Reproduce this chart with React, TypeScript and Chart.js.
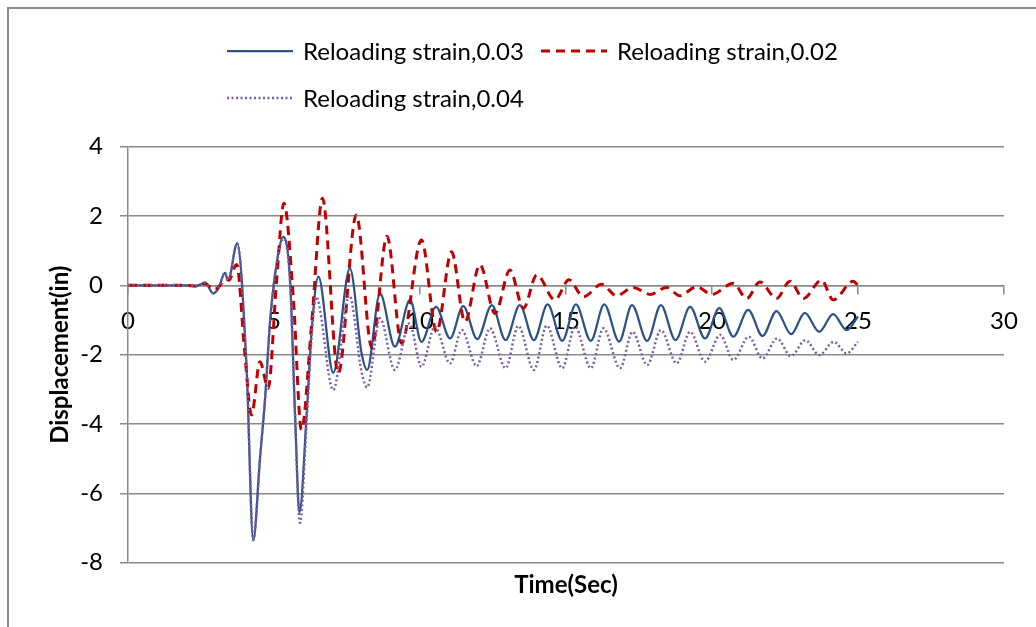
import React, { useEffect, useRef } from "react";
import { Chart, registerables } from "chart.js";

Chart.register(...registerables);

// ---------- data ----------
const SERIES_LABELS = [
  "Reloading strain,0.03",
  "Reloading strain,0.02",
  "Reloading strain,0.04",
];

const T03 = [0, 1, 2, 2.3, 2.5, 2.64, 2.92, 3.1, 3.32, 3.43, 3.74, 4.06, 4.29, 4.52, 4.7, 4.86, 5.05, 5.32, 5.55, 5.72, 5.87, 6.12, 6.29, 6.52, 7.03, 7.6, 8.0, 8.19, 8.63, 9.14, 9.66, 10.05, 10.55, 11.03, 11.48, 11.96, 12.46, 12.93, 13.42, 13.9, 14.37, 14.87, 15.34, 15.85, 16.31, 16.82, 17.26, 17.78, 18.25, 18.75, 19.25, 19.76, 20.25, 20.73, 21.24, 21.73, 22.21, 22.71, 23.18, 23.67, 24.15, 24.61, 25.0];
const V03 = [0, 0, 0, -0.02, 0.03, 0.08, -0.23, -0.08, 0.36, 0.15, 1.21, -2.35, -7.35, -5.0, -3.2, -1.1, 0.4, 1.4, 0.15, -3.69, -6.55, -3.69, -1.29, 0.25, -2.52, 0.49, -1.96, -2.44, -0.23, -1.77, -0.42, -1.63, -0.62, -1.53, -0.6, -1.55, -0.57, -1.58, -0.57, -1.58, -0.55, -1.6, -0.55, -1.6, -0.55, -1.62, -0.57, -1.6, -0.57, -1.58, -0.62, -1.53, -0.66, -1.48, -0.71, -1.46, -0.74, -1.41, -0.79, -1.34, -0.83, -1.29, -0.9];

const T02 = [0, 1, 2, 2.3, 2.64, 2.95, 3.1, 3.35, 3.45, 3.72, 4.0, 4.23, 4.52, 4.8, 5.09, 5.34, 5.66, 5.94, 6.29, 6.66, 7.2, 7.82, 8.35, 8.87, 9.37, 10.05, 10.57, 11.08, 11.54, 12.05, 12.57, 13.08, 13.54, 14.0, 14.62, 15.1, 15.59, 16.22, 16.73, 17.3, 17.88, 18.45, 18.9, 19.47, 19.99, 20.73, 21.19, 21.64, 22.21, 22.67, 23.13, 23.75, 24.15, 24.84, 25.0];
const V02 = [0, 0, 0, -0.02, 0.05, -0.12, -0.05, 0.2, 0.15, 0.6, -1.96, -3.74, -2.2, -2.97, 0.15, 2.37, -0.33, -4.17, -1.1, 2.51, -2.54, 2.03, -1.8, 1.42, -1.67, 1.31, -1.34, 0.97, -1.05, 0.6, -0.81, 0.44, -0.66, 0.3, -0.42, 0.16, -0.33, 0.03, -0.3, -0.06, -0.26, -0.06, -0.3, -0.04, -0.26, 0.06, -0.38, 0.1, -0.38, 0.12, -0.38, 0.15, -0.42, 0.12, 0.0];

const T04 = [0, 1, 2, 2.3, 2.5, 2.64, 2.92, 3.1, 3.32, 3.43, 3.74, 4.06, 4.29, 4.52, 4.7, 4.86, 5.05, 5.32, 5.55, 5.72, 5.89, 6.12, 6.29, 6.44, 7.03, 7.58, 8.0, 8.19, 8.63, 9.14, 9.64, 10.05, 10.51, 11.03, 11.43, 11.94, 12.4, 12.93, 13.37, 13.9, 14.34, 14.87, 15.31, 15.85, 16.28, 16.85, 17.28, 17.78, 18.25, 18.79, 19.25, 19.76, 20.28, 20.73, 21.26, 21.73, 22.23, 22.7, 23.2, 23.67, 24.17, 24.61, 25.0];
const V04 = [0, 0, 0, -0.02, 0.03, 0.08, -0.23, -0.08, 0.36, 0.15, 1.21, -2.35, -7.35, -5.0, -3.2, -1.1, 0.4, 1.35, 0.1, -3.8, -6.85, -3.9, -1.45, -0.33, -3.02, -0.28, -2.5, -2.94, -0.95, -2.44, -1.1, -2.35, -1.19, -2.25, -1.29, -2.33, -1.24, -2.39, -1.17, -2.44, -1.16, -2.39, -1.19, -2.39, -1.24, -2.39, -1.34, -2.3, -1.29, -2.25, -1.34, -2.2, -1.43, -2.15, -1.48, -2.11, -1.53, -2.04, -1.58, -2.01, -1.63, -1.96, -1.63];

const X_MIN = 0;
const X_MAX = 30;
const X_STEP = 5;
const Y_MIN = -8;
const Y_MAX = 4;
const Y_STEP = 2;
const X_TITLE = "Time(Sec)";
const Y_TITLE = "Displacement(in)";

// ---------- styling ----------
const FONT = "Lato, 'Open Sans', sans-serif";
const GRID = "#8a8a8a";

const toPoints = (t: number[], v: number[]) => t.map((x, i) => ({ x, y: v[i] }));

const decorPlugin = {
  id: "decor",
  afterDraw(chart: any) {
    const ctx = chart.ctx as CanvasRenderingContext2D;
    const ds = chart.data.datasets;
    const slots = [
      { i: 0, x: 227, y: 51 },
      { i: 1, x: 541, y: 51 },
      { i: 2, x: 227, y: 98 },
    ];
    ctx.save();
    for (const s of slots) {
      const d = ds[s.i];
      ctx.beginPath();
      ctx.setLineDash(d.borderDash || []);
      ctx.lineCap = d.borderCapStyle || "butt";
      ctx.lineWidth = d.borderWidth;
      ctx.strokeStyle = d.borderColor;
      ctx.moveTo(s.x, s.y);
      ctx.lineTo(s.x + 66, s.y);
      ctx.stroke();
      ctx.setLineDash([]);
      ctx.fillStyle = "#000";
      ctx.font = `24px ${FONT}`;
      ctx.textAlign = "left";
      ctx.textBaseline = "middle";
      ctx.fillText(d.label, s.x + 76, s.y + 1);
    }
    const ca = chart.chartArea;
    ctx.font = `bold 24px ${FONT}`;
    ctx.textAlign = "center";
    ctx.textBaseline = "middle";
    ctx.fillStyle = "#000";
    ctx.fillText(X_TITLE, (ca.left + ca.right) / 2, 585);
    ctx.restore();
  },
};

export default function App() {
  const ref = useRef<HTMLCanvasElement>(null);

  useEffect(() => {
    if (!ref.current) return;
    const chart = new Chart(ref.current, {
      type: "line",
      data: {
        datasets: [
          {
            label: SERIES_LABELS[0],
            data: toPoints(T03, V03),
            borderColor: "#2B5387",
            borderWidth: 2.25,
            pointRadius: 0,
            cubicInterpolationMode: "monotone",
            fill: false,
            order: 2,
          },
          {
            label: SERIES_LABELS[1],
            data: toPoints(T02, V02),
            borderColor: "#C00000",
            borderWidth: 3,
            borderDash: [9, 6],
            pointRadius: 0,
            cubicInterpolationMode: "monotone",
            fill: false,
            order: 1,
          },
          {
            label: SERIES_LABELS[2],
            data: toPoints(T04, V04),
            borderColor: "#7B5EA7",
            borderWidth: 2.5,
            borderDash: [2, 2.5],
            pointRadius: 0,
            cubicInterpolationMode: "monotone",
            fill: false,
            order: 0,
          },
        ],
      },
      options: {
        animation: false,
        responsive: false,
        maintainAspectRatio: false,
        devicePixelRatio: 1,
        layout: { padding: { left: 0, right: 32, top: 146.7, bottom: 64.3 } },
        plugins: {
          legend: { display: false },
          tooltip: { enabled: false },
          title: { display: false },
        },
        scales: {
          x: {
            type: "linear",
            position: { y: 0 } as any,
            min: X_MIN,
            max: X_MAX,
            afterFit: (s: any) => {
              s.height = 0;
            },
            ticks: {
              stepSize: X_STEP,
              color: "#000",
              font: { family: FONT, size: 24 },
              padding: 13,
              maxRotation: 0,
            },
            grid: {
              drawOnChartArea: false,
              drawTicks: true,
              tickLength: 8,
              color: GRID,
              lineWidth: 1.5,
            },
            border: { display: true, color: GRID, width: 1.5 },
          },
          y: {
            type: "linear",
            position: "left",
            min: Y_MIN,
            max: Y_MAX,
            afterFit: (s: any) => {
              s.width = 128;
            },
            ticks: {
              stepSize: Y_STEP,
              color: "#000",
              font: { family: FONT, size: 24 },
              padding: 17,
            },
            grid: {
              drawOnChartArea: true,
              drawTicks: true,
              tickLength: 8,
              color: GRID,
              lineWidth: 1.5,
            },
            border: { display: true, color: GRID, width: 1.5 },
            title: {
              display: true,
              text: Y_TITLE,
              color: "#000",
              font: { family: FONT, size: 24, weight: "bold" },
              padding: { top: 46, bottom: 0 },
            },
          },
        },
      },
      plugins: [decorPlugin],
    } as any);
    return () => chart.destroy();
  }, []);

  return (
    <div
      style={{
        position: "fixed",
        left: 0,
        top: 0,
        width: 1036,
        height: 627,
        overflow: "hidden",
        background: "#fff",
      }}
    >
      <div
        style={{
          position: "absolute",
          left: 7,
          top: 7,
          width: 1100,
          height: 700,
          border: "2px solid #8c8c8c",
        }}
      />
      <canvas
        ref={ref}
        width={1036}
        height={627}
        style={{ position: "absolute", left: 0, top: 0, width: 1036, height: 627 }}
      />
    </div>
  );
}
